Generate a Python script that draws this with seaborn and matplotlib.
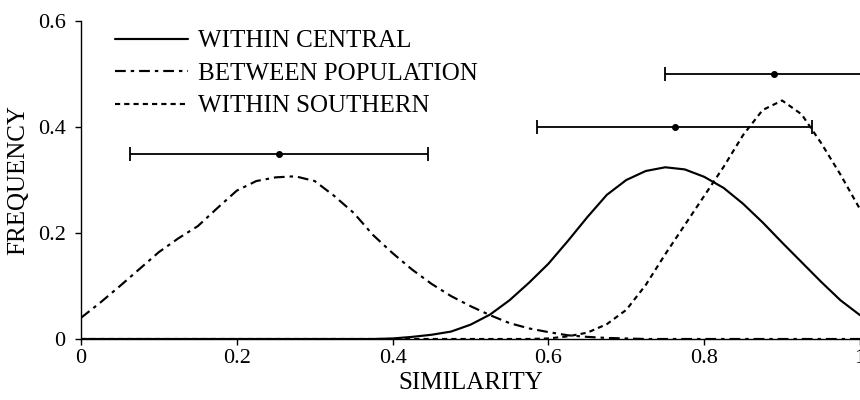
import numpy as np
import pandas as pd
import matplotlib
matplotlib.use("Agg")
import matplotlib.pyplot as plt
import seaborn as sns

# ---- data ----
x_grid = [0.000, 0.025, 0.050, 0.075, 0.100, 0.125, 0.150, 0.175, 0.200, 0.225,
          0.250, 0.275, 0.300, 0.325, 0.350, 0.375, 0.400, 0.425, 0.450, 0.475,
          0.500, 0.525, 0.550, 0.575, 0.600, 0.625, 0.650, 0.675, 0.700, 0.725,
          0.750, 0.775, 0.800, 0.825, 0.850, 0.875, 0.900, 0.925, 0.950, 0.975,
          1.000]

within_central = [0.000, 0.000, 0.000, 0.000, 0.000, 0.000, 0.000, 0.000, 0.000, 0.000,
                  0.000, 0.000, 0.000, 0.000, 0.000, 0.000, 0.001, 0.004, 0.008, 0.014,
                  0.027, 0.046, 0.073, 0.106, 0.142, 0.185, 0.230, 0.272, 0.300, 0.317,
                  0.324, 0.320, 0.306, 0.285, 0.255, 0.220, 0.182, 0.145, 0.108, 0.073,
                  0.045]

between_population = [0.040, 0.069, 0.100, 0.132, 0.164, 0.190, 0.213, 0.247, 0.280, 0.298,
                      0.305, 0.307, 0.298, 0.270, 0.238, 0.196, 0.162, 0.131, 0.104, 0.081,
                      0.062, 0.045, 0.030, 0.020, 0.013, 0.007, 0.004, 0.002, 0.001, 0.000,
                      0.000, 0.000, 0.000, 0.000, 0.000, 0.000, 0.000, 0.000, 0.000, 0.000,
                      0.000]

within_southern = [0.000, 0.000, 0.000, 0.000, 0.000, 0.000, 0.000, 0.000, 0.000, 0.000,
                   0.000, 0.000, 0.000, 0.000, 0.000, 0.000, 0.000, 0.000, 0.000, 0.000,
                   0.000, 0.000, 0.000, 0.000, 0.001, 0.005, 0.012, 0.028, 0.055, 0.102,
                   0.160, 0.215, 0.270, 0.325, 0.385, 0.432, 0.450, 0.424, 0.370, 0.310,
                   0.245]

series_names = ["WITHIN CENTRAL", "BETWEEN POPULATION", "WITHIN SOUTHERN"]

# error bars (mean, half-width, height)
err_means = [0.254, 0.762, 0.890]
err_halfwidths = [0.191, 0.177, 0.140]
err_levels = [0.35, 0.40, 0.50]

x_ticks = [0, 0.2, 0.4, 0.6, 0.8, 1.0]
x_ticklabels = ["0", "0.2", "0.4", "0.6", "0.8", "1"]
y_ticks = [0, 0.2, 0.4, 0.6]
y_ticklabels = ["0", "0.2", "0.4", "0.6"]

# ---- build long table ----
frames = []
for name, vals in zip(series_names, [within_central, between_population, within_southern]):
    frames.append(pd.DataFrame({"similarity": x_grid, "frequency": vals, "group": name}))
df = pd.concat(frames, ignore_index=True)

sns.set_style("ticks")
plt.rcParams["font.family"] = ["Liberation Serif", "DejaVu Serif"]
plt.rcParams["text.color"] = "black"
plt.rcParams["axes.labelcolor"] = "black"
plt.rcParams["xtick.color"] = "black"
plt.rcParams["ytick.color"] = "black"
plt.rcParams["lines.scale_dashes"] = True

fig = plt.figure(figsize=(8.6, 4.0), dpi=100)
ax = fig.add_axes([0.0942, 0.1525, 0.9058, 0.795])

dash_map = {
    "WITHIN CENTRAL": "",
    "BETWEEN POPULATION": (5.0, 2.3, 1.6, 2.3),
    "WITHIN SOUTHERN": (2.4, 1.9),
}
sns.lineplot(data=df, x="similarity", y="frequency", style="group",
             style_order=series_names, dashes=dash_map, color="black",
             linewidth=1.55, ax=ax, legend=True)

ax.errorbar(err_means, err_levels, xerr=err_halfwidths, fmt="o", color="black",
            markersize=4, elinewidth=1.3, capsize=5, capthick=1.3)

ax.set_xlim(0, 1)
ax.set_ylim(0, 0.6)
ax.set_xticks(x_ticks)
ax.set_xticklabels(x_ticklabels)
ax.set_yticks(y_ticks)
ax.set_yticklabels(y_ticklabels)
ax.tick_params(axis="x", direction="out", length=4, width=1, pad=3, labelsize=16,
               colors="black")
ax.tick_params(axis="y", direction="out", length=4, width=1, pad=7, labelsize=16,
               colors="black")
ax.set_xlabel("SIMILARITY", fontsize=18, labelpad=3, color="black")
ax.set_ylabel("FREQUENCY", fontsize=18, labelpad=6, color="black")

sns.despine(ax=ax)
for s in ["left", "bottom"]:
    ax.spines[s].set_linewidth(1.0)
    ax.spines[s].set_color("black")

handles, labels = ax.get_legend_handles_labels()
leg = ax.legend(handles, labels, loc="upper left", bbox_to_anchor=(0.044, 0.972),
                frameon=False, fontsize=18, handlelength=2.9, handletextpad=0.4,
                labelspacing=0.4, borderpad=0, borderaxespad=0, labelcolor="black")

fig.savefig("out.png", dpi=100, facecolor="white")
